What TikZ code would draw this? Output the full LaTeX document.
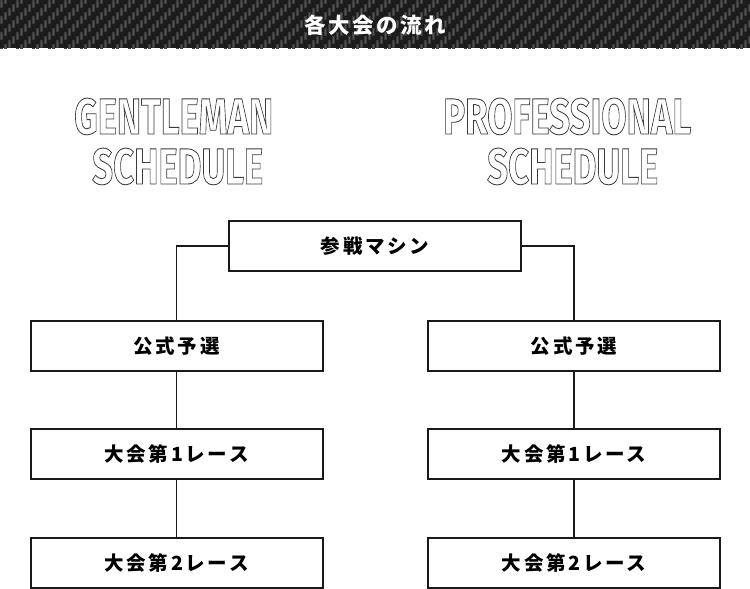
\documentclass[tikz,border=0pt]{standalone}
\usepackage{fontspec}
\usepackage{graphicx}
\newfontfamily\jp{Noto Sans CJK JP}
\newfontfamily\outf{Fira Sans}
\definecolor{cfdark}{HTML}{1C1C1C}
\definecolor{cfbar}{HTML}{3A3A3A}
\definecolor{cfhi}{HTML}{555555}
\definecolor{outc}{HTML}{3A3A3A}
\definecolor{boxc}{HTML}{1A1A1A}
\newcommand\outlinetext[1]{\special{pdf:literal direct 1 Tr 0.9 w}#1\special{pdf:literal direct 0 Tr}}
\tikzset{
  stepbox/.style={draw=boxc, line width=2pt, fill=white, minimum width=292pt, minimum height=50pt, inner sep=0pt,
    font=\jp\bfseries\fontsize{19.5}{22}\selectfont\addfontfeature{LetterSpace=14}},
  conn/.style={draw=boxc, line width=1.5pt},
  outlab/.style={anchor=base west, inner sep=0pt, text=outc}
}
\begin{document}
\begin{tikzpicture}[x=1pt,y=-1pt]
\useasboundingbox (0,0) rectangle (750,589);
\fill[white] (0,0) rectangle (750,589);
% carbon header
\begin{scope}
\clip (0,0) rectangle (750,48);
\fill[cfdark] (0,0) rectangle (750,48);
\foreach \i in {0,...,187}{
  \pgfmathtruncatemacro\off{mod(4-mod(\i,4),4)*4}
  \foreach \k in {-1,0,1,2,3}{
    \fill[cfbar] (\i*4, \off+\k*16) rectangle ++(3.4,8);
    \fill[cfhi] (\i*4+1.1, \off+\k*16+1) rectangle ++(1.2,6);
  }
}
\end{scope}
\node[text=white, font=\jp\bfseries\fontsize{21.5}{24}\selectfont\addfontfeature{LetterSpace=12}] (title) at (375,25) {各大会の流れ};
% outlined headings
\node[outlab] (gent) at (74,134) {\resizebox{199pt}{36pt}{\outf\bfseries\fontsize{52}{52}\selectfont\outlinetext{GENTLEMAN}}};
\node[outlab] (gsch) at (92,184) {\resizebox{171pt}{36pt}{\outf\bfseries\fontsize{52}{52}\selectfont\outlinetext{SCHEDULE}}};
\node[outlab] (prof) at (443,134) {\resizebox{248pt}{36pt}{\outf\bfseries\fontsize{52}{52}\selectfont\outlinetext{PROFESSIONAL}}};
\node[outlab] (psch) at (487,184) {\resizebox{171pt}{36pt}{\outf\bfseries\fontsize{52}{52}\selectfont\outlinetext{SCHEDULE}}};
% boxes
\node[stepbox] (top) at (375,246) {参戦マシン};
\node[stepbox] (g1) at (176.5,346) {公式予選};
\node[stepbox] (g2) at (176.5,454) {大会第1レース};
\node[stepbox] (g3) at (176.5,562.5) {大会第2レース};
\node[stepbox] (p1) at (574,346) {公式予選};
\node[stepbox] (p2) at (574,454) {大会第1レース};
\node[stepbox] (p3) at (574,562.5) {大会第2レース};
% connectors
\draw[conn] (top.west) -| (g1.north);
\draw[conn] (top.east) -| (p1.north);
\draw[conn] (g1) -- (g2);
\draw[conn] (g2) -- (g3);
\draw[conn] (p1) -- (p2);
\draw[conn] (p2) -- (p3);
\end{tikzpicture}
\end{document}
